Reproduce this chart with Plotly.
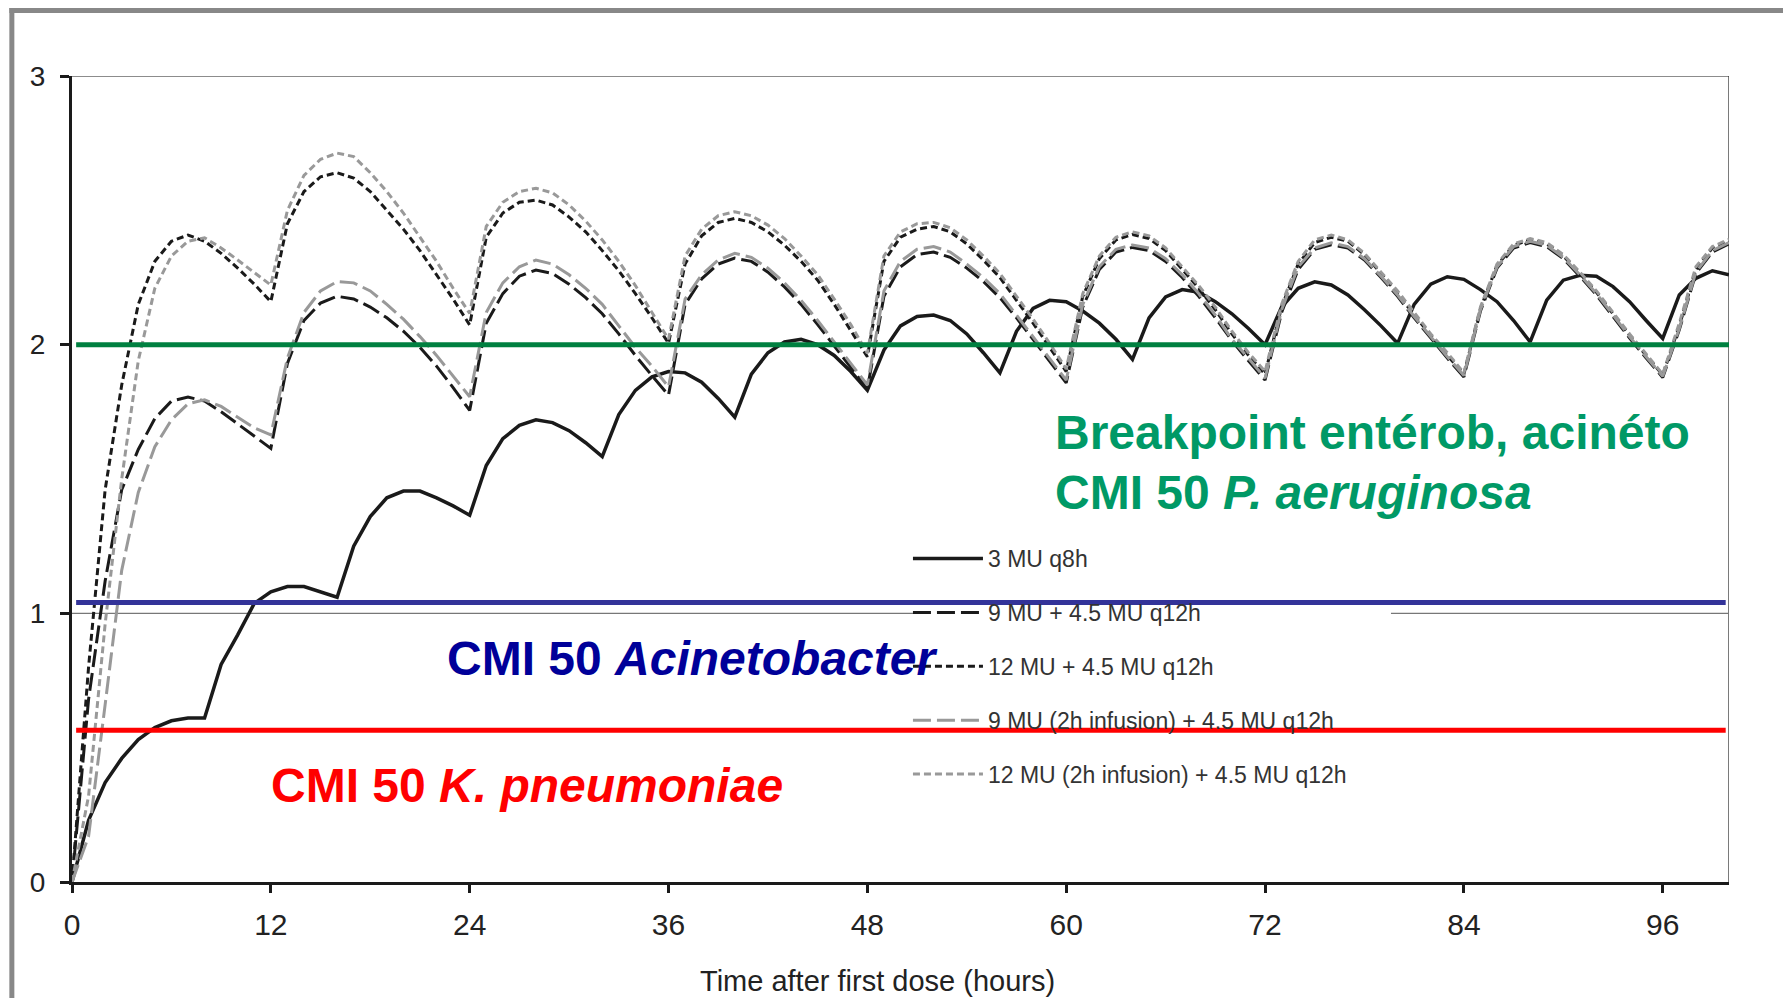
import plotly.graph_objects as go

hours = list(range(0, 101))

s1_3mu_q8h = [
    0, 0.23, 0.37, 0.46, 0.53, 0.575, 0.60, 0.61, 0.61,
    0.81, 0.92, 1.037, 1.08, 1.10, 1.10, 1.08, 1.06,
    1.25, 1.36, 1.43, 1.455, 1.455, 1.43, 1.40, 1.365,
    1.55, 1.65, 1.70, 1.72, 1.71, 1.68, 1.635, 1.583,
    1.74, 1.83, 1.88, 1.90, 1.895, 1.86, 1.80, 1.73,
    1.89, 1.97, 2.01, 2.02, 2.00, 1.96, 1.90, 1.83,
    1.98, 2.07, 2.105, 2.11, 2.09, 2.04, 1.97, 1.895,
    2.05, 2.135, 2.165, 2.16, 2.125, 2.08, 2.02, 1.945,
    2.10, 2.178, 2.205, 2.195, 2.16, 2.115, 2.06, 2.00,
    2.14, 2.21, 2.234, 2.222, 2.185, 2.13, 2.07, 2.005,
    2.15, 2.225, 2.253, 2.243, 2.205, 2.16, 2.09, 2.01,
    2.166, 2.24, 2.258, 2.255, 2.216, 2.16, 2.09, 2.023,
    2.185, 2.247, 2.275, 2.26,
]

s2_9mu = [
    0, 0.68, 1.12, 1.46, 1.61, 1.725, 1.79, 1.805, 1.79, 1.75, 1.705, 1.66, 1.614,
    1.93, 2.09, 2.155, 2.18, 2.17, 2.14, 2.10, 2.05, 1.99, 1.92, 1.84, 1.755,
    2.08, 2.19, 2.255, 2.278, 2.265, 2.225, 2.175, 2.115, 2.04, 1.96, 1.885, 1.812,
    2.15, 2.245, 2.30, 2.322, 2.31, 2.27, 2.215, 2.15, 2.075, 1.995, 1.915, 1.835,
    2.18, 2.29, 2.335, 2.345, 2.325, 2.285, 2.235, 2.175, 2.10, 2.02, 1.94, 1.858,
    2.14, 2.28, 2.345, 2.362, 2.35, 2.31, 2.25, 2.18, 2.10, 2.015, 1.94, 1.868,
    2.12, 2.28, 2.355, 2.372, 2.36, 2.315, 2.25, 2.18, 2.10, 2.025, 1.95, 1.88,
    2.125, 2.285, 2.36, 2.38, 2.365, 2.32, 2.255, 2.185, 2.105, 2.025, 1.95, 1.878,
    2.055, 2.265, 2.345, 2.375,
]

s3_12mu = [
    0, 0.80, 1.46, 1.85, 2.15, 2.31, 2.385, 2.408, 2.385, 2.34, 2.285, 2.225, 2.16,
    2.45, 2.57, 2.625, 2.64, 2.62, 2.57, 2.50, 2.43, 2.35, 2.26, 2.17, 2.073,
    2.40, 2.49, 2.53, 2.538, 2.52, 2.475, 2.42, 2.35, 2.275, 2.19, 2.10, 2.005,
    2.30, 2.405, 2.455, 2.47, 2.455, 2.42, 2.37, 2.31, 2.24, 2.15, 2.055, 1.955,
    2.31, 2.40, 2.43, 2.44, 2.42, 2.375, 2.315, 2.25, 2.165, 2.08, 1.99, 1.90,
    2.18, 2.32, 2.39, 2.41, 2.395, 2.35, 2.28, 2.21, 2.13, 2.04, 1.96, 1.89,
    2.14, 2.30, 2.38, 2.40, 2.385, 2.335, 2.265, 2.19, 2.11, 2.035, 1.96, 1.89,
    2.135, 2.295, 2.37, 2.39, 2.375, 2.33, 2.265, 2.195, 2.115, 2.035, 1.96, 1.887,
    2.07, 2.28, 2.36, 2.385,
]

s4_9mu_2h = [
    0, 0.17, 0.66, 1.16, 1.45, 1.62, 1.72, 1.78, 1.795, 1.77, 1.73, 1.69, 1.664,
    1.95, 2.12, 2.20, 2.235, 2.23, 2.20, 2.15, 2.095, 2.03, 1.96, 1.885, 1.806,
    2.12, 2.23, 2.29, 2.315, 2.30, 2.26, 2.21, 2.15, 2.07, 1.99, 1.92, 1.843,
    2.17, 2.26, 2.315, 2.34, 2.325, 2.285, 2.23, 2.165, 2.09, 2.01, 1.93, 1.85,
    2.20, 2.31, 2.355, 2.365, 2.345, 2.30, 2.25, 2.19, 2.11, 2.03, 1.95, 1.868,
    2.15, 2.29, 2.355, 2.371, 2.36, 2.32, 2.26, 2.19, 2.11, 2.02, 1.95, 1.875,
    2.13, 2.29, 2.36, 2.379, 2.365, 2.32, 2.255, 2.185, 2.105, 2.03, 1.955, 1.885,
    2.13, 2.29, 2.365, 2.385, 2.37, 2.325, 2.26, 2.19, 2.11, 2.03, 1.955, 1.882,
    2.06, 2.27, 2.35, 2.38,
]

s5_12mu_2h = [
    0, 0.32, 0.96, 1.50, 1.94, 2.21, 2.33, 2.385, 2.398, 2.36, 2.315, 2.27, 2.222,
    2.50, 2.63, 2.69, 2.713, 2.70, 2.64, 2.57, 2.49, 2.40, 2.31, 2.21, 2.116,
    2.44, 2.53, 2.57, 2.582, 2.565, 2.52, 2.46, 2.39, 2.31, 2.22, 2.12, 2.02,
    2.33, 2.43, 2.48, 2.495, 2.48, 2.445, 2.395, 2.33, 2.26, 2.17, 2.075, 1.968,
    2.33, 2.42, 2.45, 2.455, 2.435, 2.39, 2.33, 2.265, 2.18, 2.095, 2.005, 1.91,
    2.19, 2.33, 2.40, 2.42, 2.405, 2.36, 2.29, 2.22, 2.14, 2.05, 1.97, 1.90,
    2.15, 2.31, 2.39, 2.408, 2.39, 2.34, 2.27, 2.20, 2.12, 2.04, 1.97, 1.895,
    2.14, 2.30, 2.375, 2.395, 2.38, 2.335, 2.27, 2.20, 2.12, 2.04, 1.965, 1.89,
    2.08, 2.29, 2.365, 2.392,
]

series_names = [
    "3 MU q8h",
    "9 MU + 4.5 MU q12h",
    "12 MU + 4.5 MU q12h",
    "9 MU (2h infusion) + 4.5 MU q12h",
    "12 MU (2h infusion) + 4.5 MU q12h",
]

x_tickvals = [0, 12, 24, 36, 48, 60, 72, 84, 96]
x_ticktext = ["0", "12", "24", "36", "48", "60", "72", "84", "96"]
y_tickvals = [0, 1, 2, 3]
y_ticktext = ["0", "1", "2", "3"]

mic_breakpoint = 2.0
mic_acineto = 1.04
mic_kpneumo = 0.565

FONT = "Liberation Sans, Arial, sans-serif"

styles = [
    dict(color="#1a1a1a", width=3.5, dash="solid"),
    dict(color="#1a1a1a", width=3, dash="18px,6px"),
    dict(color="#1a1a1a", width=3, dash="7px,4px"),
    dict(color="#999999", width=3, dash="18px,6px"),
    dict(color="#999999", width=3, dash="7px,4px"),
]
all_series = [s1_3mu_q8h, s2_9mu, s3_12mu, s4_9mu_2h, s5_12mu_2h]

fig = go.Figure()
for i, (name, ys, st) in enumerate(zip(series_names, all_series, styles)):
    fig.add_trace(go.Scatter(
        x=hours, y=ys, mode="lines", name=name,
        line=st, legendgroup=f"g{i}",
    ))

shapes = []
shapes.append(dict(type="line", xref="x", yref="y", x0=0, x1=100, y0=3, y1=3,
                   line=dict(color="#666666", width=1.3), layer="below"))
shapes.append(dict(type="line", xref="x", yref="y", x0=100, x1=100, y0=0, y1=3,
                   line=dict(color="#333333", width=1.3), layer="below"))
shapes.append(dict(type="line", xref="x", yref="y", x0=0, x1=51.5, y0=1, y1=1,
                   line=dict(color="#777777", width=1.3), layer="below"))
shapes.append(dict(type="line", xref="x", yref="y", x0=79.6, x1=100, y0=1, y1=1,
                   line=dict(color="#777777", width=1.3), layer="below"))
shapes.append(dict(type="line", xref="x", yref="y", x0=0.25, x1=100,
                   y0=mic_breakpoint, y1=mic_breakpoint,
                   line=dict(color="#008040", width=5), layer="above"))
shapes.append(dict(type="line", xref="x", yref="y", x0=0.25, x1=99.8,
                   y0=mic_acineto, y1=mic_acineto,
                   line=dict(color="#333399", width=5), layer="above"))
shapes.append(dict(type="line", xref="x", yref="y", x0=0.25, x1=99.8,
                   y0=mic_kpneumo, y1=mic_kpneumo,
                   line=dict(color="#FF0000", width=5), layer="above"))
shapes.append(dict(type="line", xref="paper", yref="paper", x0=-0.0363, x1=-0.0363,
                   y0=-0.16, y1=1.0856, line=dict(color="#888888", width=5)))
shapes.append(dict(type="line", xref="paper", yref="paper", x0=-0.0378, x1=1.06,
                   y0=1.0819, y1=1.0819, line=dict(color="#888888", width=6)))

annotations = [
    dict(x=59.2, y=1.672, xref="x", yref="y", xanchor="left", yanchor="middle",
         text="Breakpoint entérob, acinéto", showarrow=False,
         font=dict(family=FONT, size=48, color="#009966", weight="bold")),
    dict(x=59.2, y=1.45, xref="x", yref="y", xanchor="left", yanchor="middle",
         text="CMI 50 <i>P. aeruginosa</i>", showarrow=False,
         font=dict(family=FONT, size=48, color="#009966", weight="bold")),
    dict(x=22.54, y=0.8325, xref="x", yref="y", xanchor="left", yanchor="middle",
         text="CMI 50 <i>Acinetobacter</i>", showarrow=False,
         font=dict(family=FONT, size=48, color="#000099", weight="bold")),
    dict(x=11.9, y=0.358, xref="x", yref="y", xanchor="left", yanchor="middle",
         text="CMI 50 <i>K. pneumoniae</i>", showarrow=False,
         font=dict(family=FONT, size=48, color="#FF0000", weight="bold")),
    dict(x=0.486, y=-0.1225, xref="paper", yref="paper", xanchor="center", yanchor="middle",
         text="Time after first dose (hours)", showarrow=False,
         font=dict(family=FONT, size=29, color="#222222")),
]

fig.update_layout(
    width=1783, height=990,
    margin=dict(l=64, r=62, t=68, b=116),
    paper_bgcolor="white", plot_bgcolor="white",
    font=dict(family=FONT, color="#222222"),
    shapes=shapes, annotations=annotations,
    showlegend=True,
    legend=dict(
        x=0.5045, y=0.428, xanchor="left", yanchor="top",
        bgcolor="rgba(0,0,0,0)", borderwidth=0,
        font=dict(family=FONT, size=23, color="#333333"),
        tracegroupgap=21, itemwidth=70,
    ),
    xaxis=dict(
        range=[0, 100], tickmode="array", tickvals=x_tickvals, ticktext=x_ticktext,
        showgrid=False, zeroline=False, showline=True, linecolor="#1a1a1a", linewidth=3,
        ticks="outside", ticklen=8, tickwidth=3, tickcolor="#1a1a1a",
        tickfont=dict(family=FONT, size=30, color="#222222"),
        ticklabelstandoff=6,
    ),
    yaxis=dict(
        range=[0, 3], tickmode="array", tickvals=y_tickvals, ticktext=y_ticktext,
        showgrid=False, zeroline=False, showline=True, linecolor="#1a1a1a", linewidth=3,
        ticks="outside", ticklen=9, tickwidth=3, tickcolor="#1a1a1a",
        tickfont=dict(family=FONT, size=28, color="#222222"),
        ticklabelstandoff=9,
    ),
)

fig.write_html("out.html")
